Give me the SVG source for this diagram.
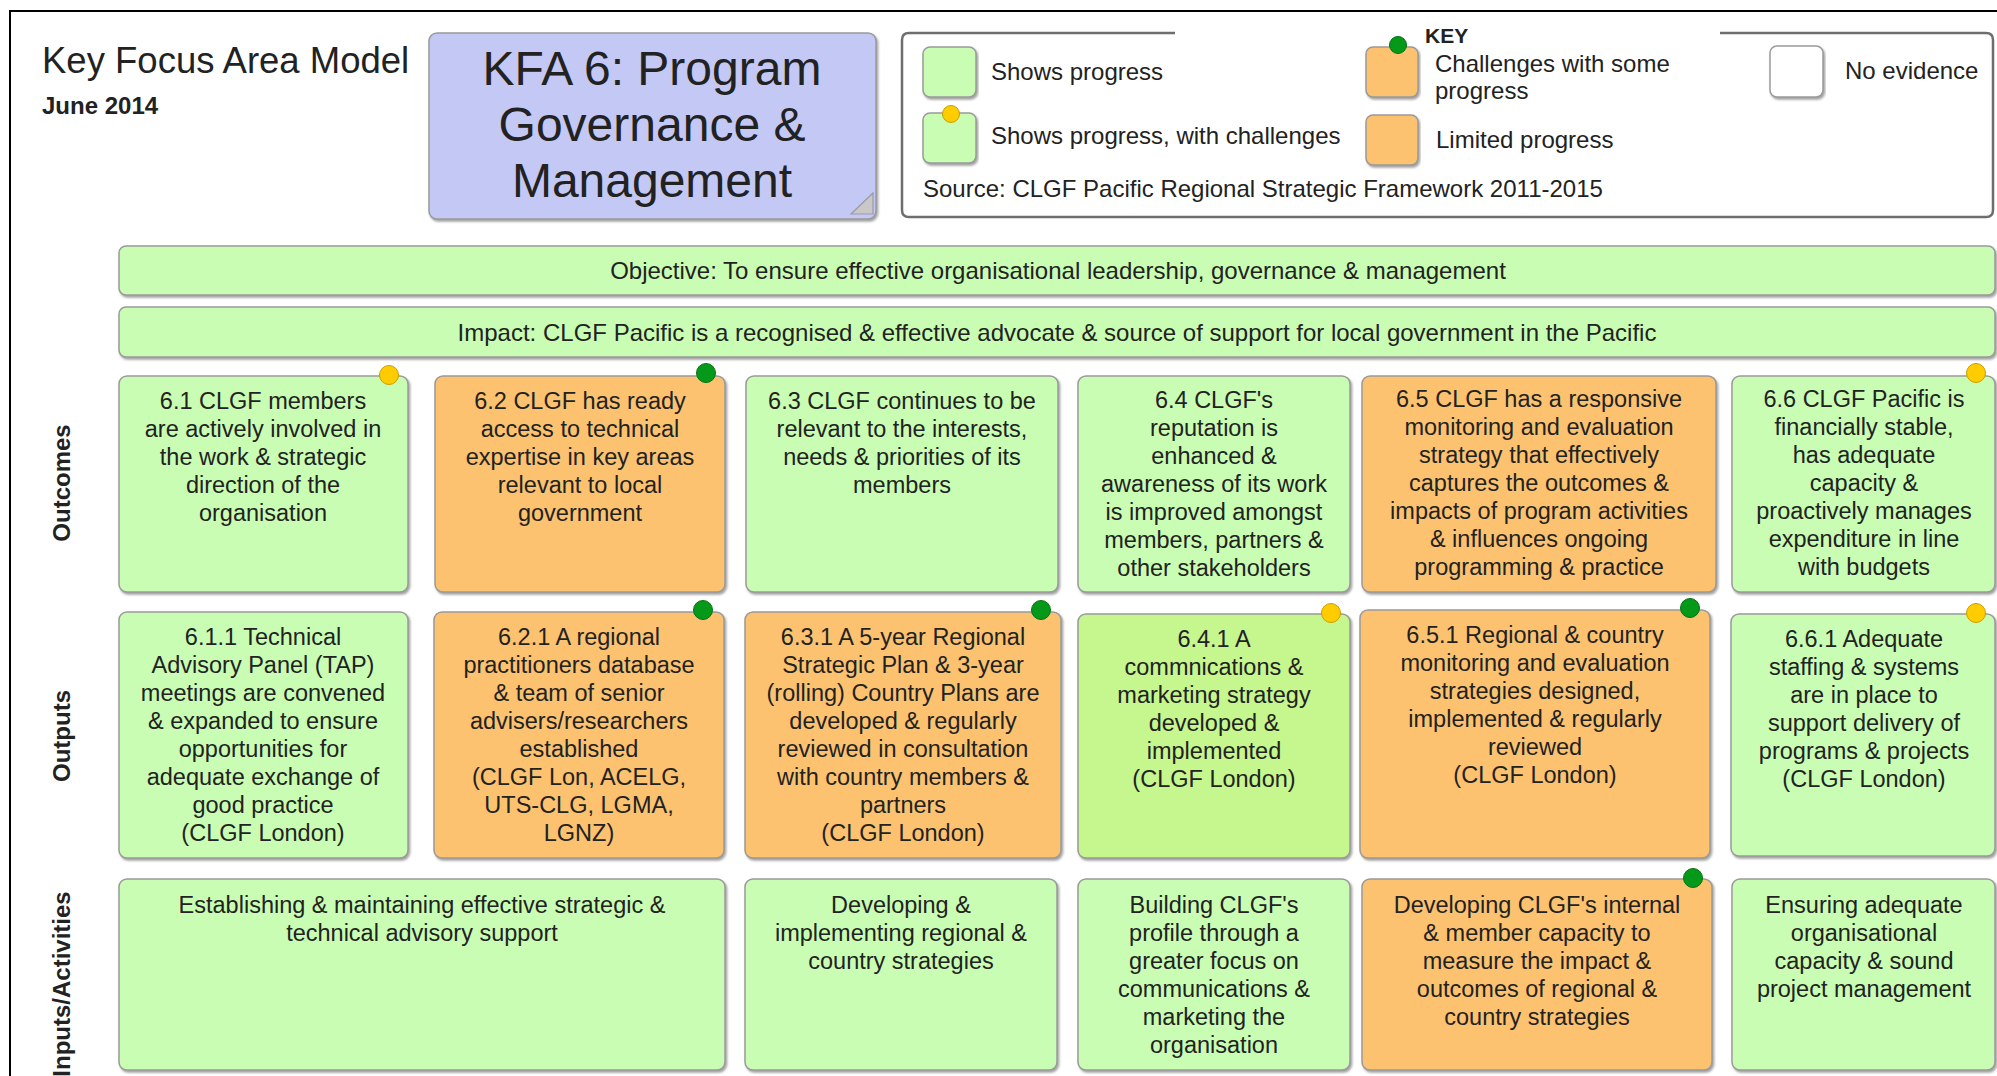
<svg xmlns="http://www.w3.org/2000/svg" width="1997" height="1076" viewBox="0 0 1997 1076">
<defs>
<filter id="sh" x="-5%" y="-5%" width="110%" height="115%">
<feDropShadow dx="1.5" dy="2" stdDeviation="1" flood-color="#7a7a7a" flood-opacity="0.7"/>
</filter>
<style>
text{font-family:"Liberation Sans",Arial,sans-serif;fill:#222}
.box{stroke:#9a9a9a;stroke-width:1.5;filter:url(#sh)}
.g{fill:#c9fdb3}
.g2{fill:#c6f68e}
.o{fill:#fcc26f}
.w{fill:#ffffff}
.t{font-size:23.5px;text-anchor:middle}
.k{font-size:24px}
.lbl{font-size:24px;font-weight:bold;text-anchor:middle}
.yd{fill:#ffcc00;stroke:#c9a000;stroke-width:1}
.gd{fill:#05991a;stroke:#04730f;stroke-width:1}
</style>
</defs>
<rect width="1997" height="1076" fill="#ffffff"/>
<path d="M10 1076 V11 H1997" fill="none" stroke="#000" stroke-width="2"/>

<g id="title">
<text x="42" y="73" style="font-size:36.5px">Key Focus Area Model</text>
<text x="42" y="114" style="font-size:24px;font-weight:bold">June 2014</text>
</g>

<g id="kfa">
<rect class="box" x="429" y="33" width="447" height="186" rx="8" fill="#c4c8f4"/>
<path d="M851 214 L873 193 L873 214 Z" fill="#c8c8c8" stroke="#9a9aa8" stroke-width="1.2"/>
<text x="652" y="85" style="font-size:48px;text-anchor:middle">KFA 6: Program</text>
<text x="652" y="141" style="font-size:48px;text-anchor:middle">Governance &amp;</text>
<text x="652" y="197" style="font-size:48px;text-anchor:middle">Management</text>
</g>

<g id="key">
<path d="M1175 33 H909 Q902 33 902 40 V210 Q902 217 909 217 H1986 Q1993 217 1993 210 V40 Q1993 33 1986 33 H1720" fill="none" stroke="#6e6e6e" stroke-width="2.5"/>
<text x="1425" y="43" style="font-size:21px;font-weight:bold">KEY</text>
<rect class="box g" x="923" y="47" width="53" height="50" rx="7"/>
<text class="k" x="991" y="80">Shows progress</text>
<rect class="box g" x="923" y="113" width="53" height="50" rx="7"/>
<circle class="yd" cx="951" cy="114" r="8.5"/>
<text class="k" x="991" y="144">Shows progress, with challenges</text>
<rect class="box o" x="1366" y="47" width="52" height="50" rx="7"/>
<circle class="gd" cx="1398" cy="45" r="8.5"/>
<text class="k" x="1435" y="72">Challenges with some</text>
<text class="k" x="1435" y="99">progress</text>
<rect class="box o" x="1366" y="115" width="52" height="50" rx="7"/>
<text class="k" x="1436" y="148">Limited progress</text>
<rect class="box w" x="1770" y="46" width="53" height="51" rx="7"/>
<text class="k" x="1845" y="79">No evidence</text>
<text class="k" x="923" y="197">Source: CLGF Pacific Regional Strategic Framework 2011-2015</text>
</g>

<g id="objective">
<rect class="box g" x="119" y="246" width="1876" height="49" rx="7"/>
<text x="1058" y="279" style="font-size:24px;text-anchor:middle">Objective: To ensure effective organisational leadership, governance &amp; management</text>
</g>
<g id="impact">
<rect class="box g" x="119" y="307" width="1876" height="50" rx="7"/>
<text x="1057" y="341" style="font-size:24px;text-anchor:middle">Impact: CLGF Pacific is a recognised &amp; effective advocate &amp; source of support for local government in the Pacific</text>
</g>

<g id="row-labels">
<text class="lbl" transform="translate(70 483) rotate(-90)">Outcomes</text>
<text class="lbl" transform="translate(70 736) rotate(-90)">Outputs</text>
<text class="lbl" transform="translate(70 984) rotate(-90)">Inputs/Activities</text>
</g>

<g id="o61">
<rect class="box g" x="119" y="376" width="289" height="216" rx="8"/>
<circle class="yd" cx="389" cy="375" r="9.5"/>
<text class="t" x="263" y="409">6.1 CLGF members</text>
<text class="t" x="263" y="437">are actively involved in</text>
<text class="t" x="263" y="465">the work &amp; strategic</text>
<text class="t" x="263" y="493">direction of the</text>
<text class="t" x="263" y="521">organisation</text>
</g>
<g id="o62">
<rect class="box o" x="435" y="376" width="290" height="216" rx="8"/>
<circle class="gd" cx="706" cy="373" r="9.5"/>
<text class="t" x="580" y="409">6.2 CLGF has ready</text>
<text class="t" x="580" y="437">access to technical</text>
<text class="t" x="580" y="465">expertise in key areas</text>
<text class="t" x="580" y="493">relevant to local</text>
<text class="t" x="580" y="521">government</text>
</g>
<g id="o63">
<rect class="box g" x="746" y="376" width="312" height="216" rx="8"/>
<text class="t" x="902" y="409">6.3 CLGF continues to be</text>
<text class="t" x="902" y="437">relevant to the interests,</text>
<text class="t" x="902" y="465">needs &amp; priorities of its</text>
<text class="t" x="902" y="493">members</text>
</g>
<g id="o64">
<rect class="box g" x="1078" y="376" width="272" height="216" rx="8"/>
<text class="t" x="1214" y="408">6.4 CLGF's</text>
<text class="t" x="1214" y="436">reputation is</text>
<text class="t" x="1214" y="464">enhanced &amp;</text>
<text class="t" x="1214" y="492">awareness of its work</text>
<text class="t" x="1214" y="520">is improved amongst</text>
<text class="t" x="1214" y="548">members, partners &amp;</text>
<text class="t" x="1214" y="576">other stakeholders</text>
</g>
<g id="o65">
<rect class="box o" x="1362" y="376" width="354" height="216" rx="8"/>
<text class="t" x="1539" y="407">6.5 CLGF has a responsive</text>
<text class="t" x="1539" y="435">monitoring and evaluation</text>
<text class="t" x="1539" y="463">strategy that effectively</text>
<text class="t" x="1539" y="491">captures the outcomes &amp;</text>
<text class="t" x="1539" y="519">impacts of program activities</text>
<text class="t" x="1539" y="547">&amp; influences ongoing</text>
<text class="t" x="1539" y="575">programming &amp; practice</text>
</g>
<g id="o66">
<rect class="box g" x="1732" y="376" width="263" height="216" rx="8"/>
<circle class="yd" cx="1976" cy="373" r="9.5"/>
<text class="t" x="1864" y="407">6.6 CLGF Pacific is</text>
<text class="t" x="1864" y="435">financially stable,</text>
<text class="t" x="1864" y="463">has adequate</text>
<text class="t" x="1864" y="491">capacity &amp;</text>
<text class="t" x="1864" y="519">proactively manages</text>
<text class="t" x="1864" y="547">expenditure in line</text>
<text class="t" x="1864" y="575">with budgets</text>
</g>

<g id="p611">
<rect class="box g" x="119" y="612" width="289" height="246" rx="8"/>
<text class="t" x="263" y="645">6.1.1 Technical</text>
<text class="t" x="263" y="673">Advisory Panel (TAP)</text>
<text class="t" x="263" y="701">meetings are convened</text>
<text class="t" x="263" y="729">&amp; expanded to ensure</text>
<text class="t" x="263" y="757">opportunities for</text>
<text class="t" x="263" y="785">adequate exchange of</text>
<text class="t" x="263" y="813">good practice</text>
<text class="t" x="263" y="841">(CLGF London)</text>
</g>
<g id="p621">
<rect class="box o" x="434" y="612" width="290" height="246" rx="8"/>
<circle class="gd" cx="703" cy="610" r="9.5"/>
<text class="t" x="579" y="645">6.2.1 A regional</text>
<text class="t" x="579" y="673">practitioners database</text>
<text class="t" x="579" y="701">&amp; team of senior</text>
<text class="t" x="579" y="729">advisers/researchers</text>
<text class="t" x="579" y="757">established</text>
<text class="t" x="579" y="785">(CLGF Lon, ACELG,</text>
<text class="t" x="579" y="813">UTS-CLG, LGMA,</text>
<text class="t" x="579" y="841">LGNZ)</text>
</g>
<g id="p631">
<rect class="box o" x="745" y="612" width="316" height="246" rx="8"/>
<circle class="gd" cx="1041" cy="610" r="9.5"/>
<text class="t" x="903" y="645">6.3.1 A 5-year Regional</text>
<text class="t" x="903" y="673">Strategic Plan &amp; 3-year</text>
<text class="t" x="903" y="701">(rolling) Country Plans are</text>
<text class="t" x="903" y="729">developed &amp; regularly</text>
<text class="t" x="903" y="757">reviewed in consultation</text>
<text class="t" x="903" y="785">with country members &amp;</text>
<text class="t" x="903" y="813">partners</text>
<text class="t" x="903" y="841">(CLGF London)</text>
</g>
<g id="p641">
<rect class="box g2" x="1078" y="614" width="272" height="244" rx="8"/>
<circle class="yd" cx="1331" cy="613" r="9.5"/>
<text class="t" x="1214" y="647">6.4.1 A</text>
<text class="t" x="1214" y="675">commnications &amp;</text>
<text class="t" x="1214" y="703">marketing strategy</text>
<text class="t" x="1214" y="731">developed &amp;</text>
<text class="t" x="1214" y="759">implemented</text>
<text class="t" x="1214" y="787">(CLGF London)</text>
</g>
<g id="p651">
<rect class="box o" x="1360" y="610" width="350" height="248" rx="8"/>
<circle class="gd" cx="1690" cy="608" r="9.5"/>
<text class="t" x="1535" y="643">6.5.1 Regional &amp; country</text>
<text class="t" x="1535" y="671">monitoring and evaluation</text>
<text class="t" x="1535" y="699">strategies designed,</text>
<text class="t" x="1535" y="727">implemented &amp; regularly</text>
<text class="t" x="1535" y="755">reviewed</text>
<text class="t" x="1535" y="783">(CLGF London)</text>
</g>
<g id="p661">
<rect class="box g" x="1731" y="614" width="264" height="242" rx="8"/>
<circle class="yd" cx="1976" cy="613" r="9.5"/>
<text class="t" x="1864" y="647">6.6.1 Adequate</text>
<text class="t" x="1864" y="675">staffing &amp; systems</text>
<text class="t" x="1864" y="703">are in place to</text>
<text class="t" x="1864" y="731">support delivery of</text>
<text class="t" x="1864" y="759">programs &amp; projects</text>
<text class="t" x="1864" y="787">(CLGF London)</text>
</g>

<g id="a1">
<rect class="box g" x="119" y="879" width="606" height="191" rx="8"/>
<text class="t" x="422" y="913">Establishing &amp; maintaining effective  strategic &amp;</text>
<text class="t" x="422" y="941">technical advisory support</text>
</g>
<g id="a2">
<rect class="box g" x="745" y="879" width="312" height="191" rx="8"/>
<text class="t" x="901" y="913">Developing &amp;</text>
<text class="t" x="901" y="941">implementing regional &amp;</text>
<text class="t" x="901" y="969">country strategies</text>
</g>
<g id="a3">
<rect class="box g" x="1078" y="879" width="272" height="191" rx="8"/>
<text class="t" x="1214" y="913">Building CLGF's</text>
<text class="t" x="1214" y="941">profile through a</text>
<text class="t" x="1214" y="969">greater focus on</text>
<text class="t" x="1214" y="997">communications &amp;</text>
<text class="t" x="1214" y="1025">marketing the</text>
<text class="t" x="1214" y="1053">organisation</text>
</g>
<g id="a4">
<rect class="box o" x="1362" y="879" width="350" height="191" rx="8"/>
<circle class="gd" cx="1693" cy="878" r="9.5"/>
<text class="t" x="1537" y="913">Developing CLGF's internal</text>
<text class="t" x="1537" y="941">&amp; member capacity to</text>
<text class="t" x="1537" y="969">measure the impact &amp;</text>
<text class="t" x="1537" y="997">outcomes of regional &amp;</text>
<text class="t" x="1537" y="1025">country strategies</text>
</g>
<g id="a5">
<rect class="box g" x="1732" y="879" width="263" height="191" rx="8"/>
<text class="t" x="1864" y="913">Ensuring adequate</text>
<text class="t" x="1864" y="941">organisational</text>
<text class="t" x="1864" y="969">capacity &amp; sound</text>
<text class="t" x="1864" y="997">project management</text>
</g>

<g id="connectors"></g>
</svg>
